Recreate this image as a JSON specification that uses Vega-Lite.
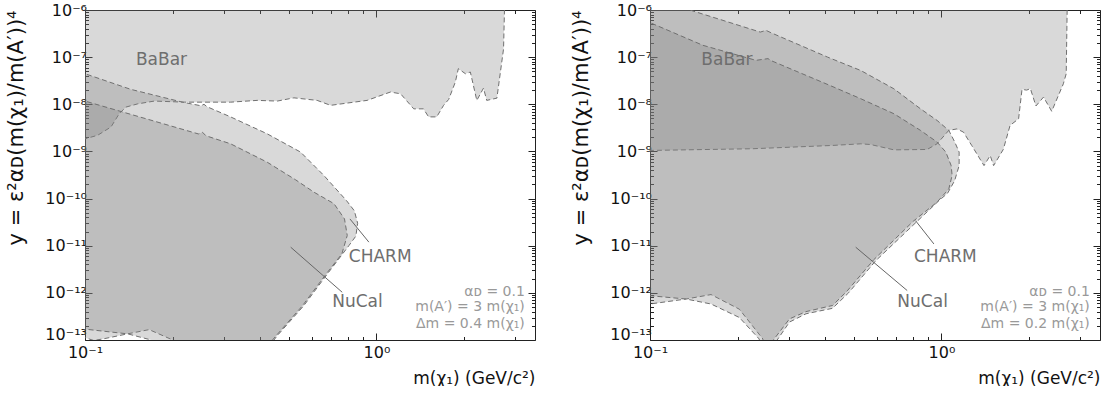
{
  "$schema": "https://vega.github.io/schema/vega-lite/v6.json",
  "background": "white",
  "padding": {"left": 5, "top": 2, "right": 0, "bottom": 0},
  "spacing": 115,
  "bounds": "flush",
  "config": {
    "font": "DejaVu Sans",
    "view": {"stroke": null},
    "axis": {"grid": false, "zindex": 1, "domainColor": "#222", "tickColor": "#222", "labelColor": "#111", "labelFont": "DejaVu Sans", "titleFont": "DejaVu Sans", "titleFontWeight": "normal", "titleColor": "#111"}
  },
  "datasets": {
    "regions": [
      {"p":"L","r":"a_BaBar","i":0,"x":0.09,"y":1e-5},
      {"p":"L","r":"a_BaBar","i":1,"x":0.09,"y":1.5e-9},
      {"p":"L","r":"a_BaBar","i":2,"x":0.1,"y":1.85e-9},
      {"p":"L","r":"a_BaBar","i":3,"x":0.1105,"y":2.2e-9},
      {"p":"L","r":"a_BaBar","i":4,"x":0.1228,"y":3.3e-9},
      {"p":"L","r":"a_BaBar","i":5,"x":0.131,"y":6.3e-9},
      {"p":"L","r":"a_BaBar","i":6,"x":0.138,"y":8.7e-9},
      {"p":"L","r":"a_BaBar","i":7,"x":0.1515,"y":1.02e-8},
      {"p":"L","r":"a_BaBar","i":8,"x":0.173,"y":1.17e-8},
      {"p":"L","r":"a_BaBar","i":9,"x":0.219,"y":1.11e-8},
      {"p":"L","r":"a_BaBar","i":10,"x":0.316,"y":1.11e-8},
      {"p":"L","r":"a_BaBar","i":11,"x":0.39,"y":1.21e-8},
      {"p":"L","r":"a_BaBar","i":12,"x":0.457,"y":1.17e-8},
      {"p":"L","r":"a_BaBar","i":13,"x":0.521,"y":1.37e-8},
      {"p":"L","r":"a_BaBar","i":14,"x":0.626,"y":1.21e-8},
      {"p":"L","r":"a_BaBar","i":15,"x":0.696,"y":9.5e-9},
      {"p":"L","r":"a_BaBar","i":16,"x":0.929,"y":1.21e-8},
      {"p":"L","r":"a_BaBar","i":17,"x":1.117,"y":1.82e-8},
      {"p":"L","r":"a_BaBar","i":18,"x":1.21,"y":1.67e-8},
      {"p":"L","r":"a_BaBar","i":19,"x":1.343,"y":8.0e-9},
      {"p":"L","r":"a_BaBar","i":20,"x":1.45,"y":8.0e-9},
      {"p":"L","r":"a_BaBar","i":21,"x":1.51,"y":5.4e-9},
      {"p":"L","r":"a_BaBar","i":22,"x":1.61,"y":5.4e-9},
      {"p":"L","r":"a_BaBar","i":23,"x":1.70,"y":9.5e-9},
      {"p":"L","r":"a_BaBar","i":24,"x":1.77,"y":1.27e-8},
      {"p":"L","r":"a_BaBar","i":25,"x":1.865,"y":2.96e-8},
      {"p":"L","r":"a_BaBar","i":26,"x":1.91,"y":5.7e-8},
      {"p":"L","r":"a_BaBar","i":27,"x":2.02,"y":4.45e-8},
      {"p":"L","r":"a_BaBar","i":28,"x":2.10,"y":4.83e-8},
      {"p":"L","r":"a_BaBar","i":29,"x":2.21,"y":1.21e-8},
      {"p":"L","r":"a_BaBar","i":30,"x":2.33,"y":2.2e-8},
      {"p":"L","r":"a_BaBar","i":31,"x":2.39,"y":1.21e-8},
      {"p":"L","r":"a_BaBar","i":32,"x":2.59,"y":1.35e-8},
      {"p":"L","r":"a_BaBar","i":33,"x":2.73,"y":1.5e-7},
      {"p":"L","r":"a_BaBar","i":34,"x":2.75,"y":1e-6},
      {"p":"L","r":"a_BaBar","i":35,"x":2.75,"y":1e-5},

      {"p":"L","r":"b_CHARM","i":0,"x":0.09,"y":5.5e-8},
      {"p":"L","r":"b_CHARM","i":1,"x":0.1,"y":4.45e-8},
      {"p":"L","r":"b_CHARM","i":2,"x":0.1437,"y":2.07e-8},
      {"p":"L","r":"b_CHARM","i":3,"x":0.216,"y":1.11e-8},
      {"p":"L","r":"b_CHARM","i":4,"x":0.25,"y":9.3e-9},
      {"p":"L","r":"b_CHARM","i":5,"x":0.256,"y":1.0e-8},
      {"p":"L","r":"b_CHARM","i":6,"x":0.262,"y":8.9e-9},
      {"p":"L","r":"b_CHARM","i":7,"x":0.316,"y":5.4e-9},
      {"p":"L","r":"b_CHARM","i":8,"x":0.422,"y":2.36e-9},
      {"p":"L","r":"b_CHARM","i":9,"x":0.549,"y":9.7e-10},
      {"p":"L","r":"b_CHARM","i":10,"x":0.66,"y":3.1e-10},
      {"p":"L","r":"b_CHARM","i":11,"x":0.79,"y":9e-11},
      {"p":"L","r":"b_CHARM","i":12,"x":0.84,"y":5.5e-11},
      {"p":"L","r":"b_CHARM","i":13,"x":0.862,"y":3e-11},
      {"p":"L","r":"b_CHARM","i":14,"x":0.85,"y":1.6e-11},
      {"p":"L","r":"b_CHARM","i":15,"x":0.804,"y":1.0e-11},
      {"p":"L","r":"b_CHARM","i":16,"x":0.678,"y":2.5e-12},
      {"p":"L","r":"b_CHARM","i":17,"x":0.564,"y":5.4e-13},
      {"p":"L","r":"b_CHARM","i":18,"x":0.457,"y":1.24e-13},
      {"p":"L","r":"b_CHARM","i":19,"x":0.445,"y":1e-13},
      {"p":"L","r":"b_CHARM","i":20,"x":0.44,"y":6e-14},
      {"p":"L","r":"b_CHARM","i":21,"x":0.21,"y":7e-14},
      {"p":"L","r":"b_CHARM","i":22,"x":0.2,"y":1.0e-13},
      {"p":"L","r":"b_CHARM","i":23,"x":0.166,"y":1.66e-13},
      {"p":"L","r":"b_CHARM","i":24,"x":0.14,"y":1.35e-13},
      {"p":"L","r":"b_CHARM","i":25,"x":0.115,"y":1.05e-13},
      {"p":"L","r":"b_CHARM","i":26,"x":0.107,"y":9.8e-14},
      {"p":"L","r":"b_CHARM","i":27,"x":0.1,"y":1.12e-13},
      {"p":"L","r":"b_CHARM","i":28,"x":0.09,"y":1.2e-13},

      {"p":"L","r":"c_NuCal","i":0,"x":0.09,"y":1.42e-8},
      {"p":"L","r":"c_NuCal","i":1,"x":0.1,"y":1.17e-8},
      {"p":"L","r":"c_NuCal","i":2,"x":0.245,"y":2.35e-9},
      {"p":"L","r":"c_NuCal","i":3,"x":0.253,"y":2.55e-9},
      {"p":"L","r":"c_NuCal","i":4,"x":0.26,"y":2.15e-9},
      {"p":"L","r":"c_NuCal","i":5,"x":0.316,"y":1.45e-9},
      {"p":"L","r":"c_NuCal","i":6,"x":0.422,"y":5.9e-10},
      {"p":"L","r":"c_NuCal","i":7,"x":0.528,"y":2.5e-10},
      {"p":"L","r":"c_NuCal","i":8,"x":0.61,"y":1.37e-10},
      {"p":"L","r":"c_NuCal","i":9,"x":0.715,"y":7.8e-11},
      {"p":"L","r":"c_NuCal","i":10,"x":0.777,"y":3.7e-11},
      {"p":"L","r":"c_NuCal","i":11,"x":0.794,"y":1.65e-11},
      {"p":"L","r":"c_NuCal","i":12,"x":0.761,"y":6.7e-12},
      {"p":"L","r":"c_NuCal","i":13,"x":0.67,"y":2.45e-12},
      {"p":"L","r":"c_NuCal","i":14,"x":0.557,"y":5.3e-13},
      {"p":"L","r":"c_NuCal","i":15,"x":0.452,"y":1.22e-13},
      {"p":"L","r":"c_NuCal","i":16,"x":0.44,"y":1e-13},
      {"p":"L","r":"c_NuCal","i":17,"x":0.435,"y":6e-14},
      {"p":"L","r":"c_NuCal","i":18,"x":0.175,"y":6e-14},
      {"p":"L","r":"c_NuCal","i":19,"x":0.169,"y":1e-13},
      {"p":"L","r":"c_NuCal","i":20,"x":0.14,"y":1.35e-13},
      {"p":"L","r":"c_NuCal","i":21,"x":0.1,"y":1.7e-13},
      {"p":"L","r":"c_NuCal","i":22,"x":0.09,"y":1.8e-13},

      {"p":"R","r":"a_BaBar","i":0,"x":0.09,"y":1e-5},
      {"p":"R","r":"a_BaBar","i":1,"x":0.09,"y":1.04e-9},
      {"p":"R","r":"a_BaBar","i":2,"x":0.1,"y":1.05e-9},
      {"p":"R","r":"a_BaBar","i":3,"x":0.225,"y":1.14e-9},
      {"p":"R","r":"a_BaBar","i":4,"x":0.423,"y":1.34e-9},
      {"p":"R","r":"a_BaBar","i":5,"x":0.529,"y":1.45e-9},
      {"p":"R","r":"a_BaBar","i":6,"x":0.572,"y":1.4e-9},
      {"p":"R","r":"a_BaBar","i":7,"x":0.687,"y":1.08e-9},
      {"p":"R","r":"a_BaBar","i":8,"x":0.893,"y":1.1e-9},
      {"p":"R","r":"a_BaBar","i":9,"x":0.966,"y":1.45e-9},
      {"p":"R","r":"a_BaBar","i":10,"x":1.06,"y":2.8e-9},
      {"p":"R","r":"a_BaBar","i":11,"x":1.13,"y":3.0e-9},
      {"p":"R","r":"a_BaBar","i":12,"x":1.19,"y":2.57e-9},
      {"p":"R","r":"a_BaBar","i":13,"x":1.27,"y":1.34e-9},
      {"p":"R","r":"a_BaBar","i":14,"x":1.40,"y":5.0e-10},
      {"p":"R","r":"a_BaBar","i":15,"x":1.47,"y":8.2e-10},
      {"p":"R","r":"a_BaBar","i":16,"x":1.51,"y":5.0e-10},
      {"p":"R","r":"a_BaBar","i":17,"x":1.63,"y":1.1e-9},
      {"p":"R","r":"a_BaBar","i":18,"x":1.72,"y":3.56e-9},
      {"p":"R","r":"a_BaBar","i":19,"x":1.84,"y":4.93e-9},
      {"p":"R","r":"a_BaBar","i":20,"x":1.89,"y":2.07e-8},
      {"p":"R","r":"a_BaBar","i":21,"x":1.96,"y":2.0e-8},
      {"p":"R","r":"a_BaBar","i":22,"x":2.02,"y":2.14e-8},
      {"p":"R","r":"a_BaBar","i":23,"x":2.11,"y":9.2e-9},
      {"p":"R","r":"a_BaBar","i":24,"x":2.24,"y":1.42e-8},
      {"p":"R","r":"a_BaBar","i":25,"x":2.39,"y":7.1e-9},
      {"p":"R","r":"a_BaBar","i":26,"x":2.62,"y":2.72e-8},
      {"p":"R","r":"a_BaBar","i":27,"x":2.68,"y":4.45e-8},
      {"p":"R","r":"a_BaBar","i":28,"x":2.70,"y":1e-6},
      {"p":"R","r":"a_BaBar","i":29,"x":2.70,"y":1e-5},

      {"p":"R","r":"b_CHARM","i":0,"x":0.09,"y":2.2e-6},
      {"p":"R","r":"b_CHARM","i":1,"x":0.137,"y":1e-6},
      {"p":"R","r":"b_CHARM","i":2,"x":0.239,"y":3.4e-7},
      {"p":"R","r":"b_CHARM","i":3,"x":0.25,"y":3.7e-7},
      {"p":"R","r":"b_CHARM","i":4,"x":0.26,"y":3.3e-7},
      {"p":"R","r":"b_CHARM","i":5,"x":0.407,"y":1.0e-7},
      {"p":"R","r":"b_CHARM","i":6,"x":0.529,"y":5.2e-8},
      {"p":"R","r":"b_CHARM","i":7,"x":0.687,"y":2.13e-8},
      {"p":"R","r":"b_CHARM","i":8,"x":0.848,"y":8.0e-9},
      {"p":"R","r":"b_CHARM","i":9,"x":0.966,"y":4.55e-9},
      {"p":"R","r":"b_CHARM","i":10,"x":1.06,"y":2.79e-9},
      {"p":"R","r":"b_CHARM","i":11,"x":1.11,"y":1.6e-9},
      {"p":"R","r":"b_CHARM","i":12,"x":1.15,"y":9.7e-10},
      {"p":"R","r":"b_CHARM","i":13,"x":1.15,"y":5.0e-10},
      {"p":"R","r":"b_CHARM","i":14,"x":1.11,"y":2.4e-10},
      {"p":"R","r":"b_CHARM","i":15,"x":1.05,"y":1.3e-10},
      {"p":"R","r":"b_CHARM","i":16,"x":0.98,"y":9.0e-11},
      {"p":"R","r":"b_CHARM","i":17,"x":0.83,"y":3.4e-11},
      {"p":"R","r":"b_CHARM","i":18,"x":0.595,"y":4.8e-12},
      {"p":"R","r":"b_CHARM","i":19,"x":0.48,"y":1.0e-12},
      {"p":"R","r":"b_CHARM","i":20,"x":0.423,"y":4.7e-13},
      {"p":"R","r":"b_CHARM","i":21,"x":0.343,"y":3.6e-13},
      {"p":"R","r":"b_CHARM","i":22,"x":0.301,"y":2.4e-13},
      {"p":"R","r":"b_CHARM","i":23,"x":0.27,"y":9e-14},
      {"p":"R","r":"b_CHARM","i":24,"x":0.265,"y":6e-14},
      {"p":"R","r":"b_CHARM","i":25,"x":0.245,"y":6e-14},
      {"p":"R","r":"b_CHARM","i":26,"x":0.244,"y":1.05e-13},
      {"p":"R","r":"b_CHARM","i":27,"x":0.2026,"y":4.5e-13},
      {"p":"R","r":"b_CHARM","i":28,"x":0.162,"y":9.2e-13},
      {"p":"R","r":"b_CHARM","i":29,"x":0.133,"y":7.4e-13},
      {"p":"R","r":"b_CHARM","i":30,"x":0.1,"y":5.8e-13},
      {"p":"R","r":"b_CHARM","i":31,"x":0.09,"y":5.5e-13},

      {"p":"R","r":"c_NuCal","i":0,"x":0.09,"y":7.1e-7},
      {"p":"R","r":"c_NuCal","i":1,"x":0.1,"y":5.4e-7},
      {"p":"R","r":"c_NuCal","i":2,"x":0.152,"y":1.78e-7},
      {"p":"R","r":"c_NuCal","i":3,"x":0.231,"y":8.55e-8},
      {"p":"R","r":"c_NuCal","i":4,"x":0.254,"y":9.3e-8},
      {"p":"R","r":"c_NuCal","i":5,"x":0.262,"y":8.3e-8},
      {"p":"R","r":"c_NuCal","i":6,"x":0.293,"y":6.2e-8},
      {"p":"R","r":"c_NuCal","i":7,"x":0.415,"y":2.5e-8},
      {"p":"R","r":"c_NuCal","i":8,"x":0.529,"y":1.31e-8},
      {"p":"R","r":"c_NuCal","i":9,"x":0.687,"y":6.3e-9},
      {"p":"R","r":"c_NuCal","i":10,"x":0.848,"y":2.79e-9},
      {"p":"R","r":"c_NuCal","i":11,"x":0.966,"y":1.58e-9},
      {"p":"R","r":"c_NuCal","i":12,"x":1.035,"y":9.7e-10},
      {"p":"R","r":"c_NuCal","i":13,"x":1.08,"y":5.0e-10},
      {"p":"R","r":"c_NuCal","i":14,"x":1.088,"y":3.1e-10},
      {"p":"R","r":"c_NuCal","i":15,"x":1.06,"y":1.6e-10},
      {"p":"R","r":"c_NuCal","i":16,"x":0.966,"y":8.4e-11},
      {"p":"R","r":"c_NuCal","i":17,"x":0.80,"y":3.3e-11},
      {"p":"R","r":"c_NuCal","i":18,"x":0.585,"y":5.0e-12},
      {"p":"R","r":"c_NuCal","i":19,"x":0.475,"y":1.1e-12},
      {"p":"R","r":"c_NuCal","i":20,"x":0.423,"y":5.4e-13},
      {"p":"R","r":"c_NuCal","i":21,"x":0.343,"y":4.0e-13},
      {"p":"R","r":"c_NuCal","i":22,"x":0.301,"y":2.8e-13},
      {"p":"R","r":"c_NuCal","i":23,"x":0.265,"y":1e-13},
      {"p":"R","r":"c_NuCal","i":24,"x":0.262,"y":6e-14},
      {"p":"R","r":"c_NuCal","i":25,"x":0.24,"y":6e-14},
      {"p":"R","r":"c_NuCal","i":26,"x":0.237,"y":1.05e-13},
      {"p":"R","r":"c_NuCal","i":27,"x":0.2026,"y":3.0e-13},
      {"p":"R","r":"c_NuCal","i":28,"x":0.162,"y":5.8e-13},
      {"p":"R","r":"c_NuCal","i":29,"x":0.133,"y":7.4e-13},
      {"p":"R","r":"c_NuCal","i":30,"x":0.1,"y":8.7e-13},
      {"p":"R","r":"c_NuCal","i":31,"x":0.09,"y":9.2e-13}
    ],
    "labels": [
      {"p":"L","x":0.1495,"y":6.7e-8,"t":"BaBar"},
      {"p":"L","x":0.804,"y":4.47e-12,"t":"CHARM"},
      {"p":"L","x":0.705,"y":4.95e-13,"t":"NuCal"},
      {"p":"R","x":0.150,"y":6.7e-8,"t":"BaBar"},
      {"p":"R","x":0.805,"y":4.47e-12,"t":"CHARM"},
      {"p":"R","x":0.706,"y":4.95e-13,"t":"NuCal"}
    ],
    "leaders": [
      {"p":"L","x":0.811,"y":3.7e-11,"x2":0.942,"y2":1.19e-11},
      {"p":"L","x":0.508,"y":9.3e-12,"x2":0.763,"y2":1.03e-12},
      {"p":"R","x":0.815,"y":3.4e-11,"x2":0.942,"y2":1.09e-11},
      {"p":"R","x":0.508,"y":9.3e-12,"x2":0.763,"y2":1.12e-12}
    ],
    "params": [
      {"p":"L","x":3.23,"y":1.03e-12,"t":"αᴅ = 0.1"},
      {"p":"L","x":3.23,"y":4.95e-13,"t":"m(A′) = 3 m(χ₁)"},
      {"p":"L","x":3.23,"y":2.19e-13,"t":"Δm = 0.4 m(χ₁)"},
      {"p":"R","x":3.23,"y":1.03e-12,"t":"αᴅ = 0.1"},
      {"p":"R","x":3.23,"y":4.95e-13,"t":"m(A′) = 3 m(χ₁)"},
      {"p":"R","x":3.23,"y":2.19e-13,"t":"Δm = 0.2 m(χ₁)"}
    ]
  },
  "hconcat": [
    {
      "width": 450, "height": 330,
      "resolve": {"axis": {"x": "independent", "y": "independent"}},
      "layer": [
        {
          "data": {"name": "regions"},
          "transform": [{"filter": "datum.p == 'L'"}],
          "mark": {"type": "line", "fill": "#808080", "fillOpacity": 0.3, "stroke": "#707070", "strokeWidth": 1, "strokeDash": [5, 3], "clip": true},
          "encoding": {
            "x": {"field": "x", "type": "quantitative", "scale": {"type": "log", "domain": [0.1, 3.5]},
              "axis": {"orient": "bottom", "values": [0.1,0.2,0.3,0.4,0.5,0.6,0.7,0.8,0.9,1,2,3], "labelExpr": "datum.value == 1 ? '10⁰' : (abs(datum.value - 0.1) < 1e-9 ? '10⁻¹' : '')", "tickSize": {"condition": {"test": "abs(log(datum.value)/LN10 - round(log(datum.value)/LN10)) < 0.01", "value": -7}, "value": -3.5}, "labelPadding": 11, "labelFontSize": 16, "labelFlush": false, "title": "m(χ₁) (GeV/c²)", "titleAnchor": "end", "titleFontSize": 17, "titlePadding": 10}},
            "y": {"field": "y", "type": "quantitative", "scale": {"type": "log", "domain": [1e-13, 1e-6]},
              "axis": {"orient": "left", "values": [1e-13,2e-13,3e-13,4e-13,5e-13,6e-13,7e-13,8e-13,9e-13,1e-12,2e-12,3e-12,4e-12,5e-12,6e-12,7e-12,8e-12,9e-12,1e-11,2e-11,3e-11,4e-11,5e-11,6e-11,7e-11,8e-11,9e-11,1e-10,2e-10,3e-10,4e-10,5e-10,6e-10,7e-10,8e-10,9e-10,1e-9,2e-9,3e-9,4e-9,5e-9,6e-9,7e-9,8e-9,9e-9,1e-8,2e-8,3e-8,4e-8,5e-8,6e-8,7e-8,8e-8,9e-8,1e-7,2e-7,3e-7,4e-7,5e-7,6e-7,7e-7,8e-7,9e-7,1e-6], "labelExpr": "abs(log(datum.value)/LN10 - round(log(datum.value)/LN10)) < 0.01 ? '10⁻' + (round(-log(datum.value)/LN10) >= 10 ? '¹' : '') + ['⁰','¹','²','³','⁴','⁵','⁶','⁷','⁸','⁹'][round(-log(datum.value)/LN10) % 10] : ''", "labelOffset": {"condition": {"test": "datum.value < 1.5e-13", "value": -6}, "value": 0}, "tickSize": {"condition": {"test": "abs(log(datum.value)/LN10 - round(log(datum.value)/LN10)) < 0.01", "value": -7}, "value": -3.5}, "labelPadding": 5.5, "labelFontSize": 16, "labelFlush": false, "title": "y = ε²αᴅ(m(χ₁)/m(A′))⁴", "titleAnchor": "end", "titleFontSize": 21, "titlePadding": 18}},
            "detail": {"field": "r"},
            "order": {"field": "i", "type": "quantitative"}
          }
        },
        {
          "data": {"name": "leaders"},
          "transform": [{"filter": "datum.p == 'L'"}],
          "mark": {"type": "rule", "color": "#666", "strokeWidth": 1},
          "encoding": {
            "x": {"field": "x", "type": "quantitative", "scale": {"type": "log", "domain": [0.1, 3.5]},
              "axis": {"orient": "top", "values": [0.1,0.2,0.3,0.4,0.5,0.6,0.7,0.8,0.9,1,2,3], "labels": false, "title": null, "tickSize": {"condition": {"test": "abs(log(datum.value)/LN10 - round(log(datum.value)/LN10)) < 0.01", "value": -7}, "value": -3.5}}},
            "y": {"field": "y", "type": "quantitative", "scale": {"type": "log", "domain": [1e-13, 1e-6]},
              "axis": {"orient": "right", "values": [1e-13,2e-13,3e-13,4e-13,5e-13,6e-13,7e-13,8e-13,9e-13,1e-12,2e-12,3e-12,4e-12,5e-12,6e-12,7e-12,8e-12,9e-12,1e-11,2e-11,3e-11,4e-11,5e-11,6e-11,7e-11,8e-11,9e-11,1e-10,2e-10,3e-10,4e-10,5e-10,6e-10,7e-10,8e-10,9e-10,1e-9,2e-9,3e-9,4e-9,5e-9,6e-9,7e-9,8e-9,9e-9,1e-8,2e-8,3e-8,4e-8,5e-8,6e-8,7e-8,8e-8,9e-8,1e-7,2e-7,3e-7,4e-7,5e-7,6e-7,7e-7,8e-7,9e-7,1e-6], "labels": false, "title": null, "tickSize": {"condition": {"test": "abs(log(datum.value)/LN10 - round(log(datum.value)/LN10)) < 0.01", "value": -7}, "value": -3.5}}},
            "x2": {"field": "x2"},
            "y2": {"field": "y2"}
          }
        },
        {
          "data": {"name": "labels"},
          "transform": [{"filter": "datum.p == 'L'"}],
          "mark": {"type": "text", "align": "left", "baseline": "alphabetic", "fontSize": 17, "color": "#6e6e6e", "font": "DejaVu Sans"},
          "encoding": {
            "x": {"field": "x", "type": "quantitative", "scale": {"type": "log", "domain": [0.1, 3.5]}, "axis": null},
            "y": {"field": "y", "type": "quantitative", "scale": {"type": "log", "domain": [1e-13, 1e-6]}, "axis": null},
            "text": {"field": "t"}
          }
        },
        {
          "data": {"name": "params"},
          "transform": [{"filter": "datum.p == 'L'"}],
          "mark": {"type": "text", "align": "right", "baseline": "middle", "fontSize": 14, "color": "#999999", "font": "DejaVu Sans"},
          "encoding": {
            "x": {"field": "x", "type": "quantitative", "scale": {"type": "log", "domain": [0.1, 3.5]}, "axis": null},
            "y": {"field": "y", "type": "quantitative", "scale": {"type": "log", "domain": [1e-13, 1e-6]}, "axis": null},
            "text": {"field": "t"}
          }
        }
      ]
    },
    {
      "width": 450, "height": 330,
      "resolve": {"axis": {"x": "independent", "y": "independent"}},
      "layer": [
        {
          "data": {"name": "regions"},
          "transform": [{"filter": "datum.p == 'R'"}],
          "mark": {"type": "line", "fill": "#808080", "fillOpacity": 0.3, "stroke": "#707070", "strokeWidth": 1, "strokeDash": [5, 3], "clip": true},
          "encoding": {
            "x": {"field": "x", "type": "quantitative", "scale": {"type": "log", "domain": [0.1, 3.5]},
              "axis": {"orient": "bottom", "values": [0.1,0.2,0.3,0.4,0.5,0.6,0.7,0.8,0.9,1,2,3], "labelExpr": "datum.value == 1 ? '10⁰' : (abs(datum.value - 0.1) < 1e-9 ? '10⁻¹' : '')", "tickSize": {"condition": {"test": "abs(log(datum.value)/LN10 - round(log(datum.value)/LN10)) < 0.01", "value": -7}, "value": -3.5}, "labelPadding": 11, "labelFontSize": 16, "labelFlush": false, "title": "m(χ₁) (GeV/c²)", "titleAnchor": "end", "titleFontSize": 17, "titlePadding": 10}},
            "y": {"field": "y", "type": "quantitative", "scale": {"type": "log", "domain": [1e-13, 1e-6]},
              "axis": {"orient": "left", "values": [1e-13,2e-13,3e-13,4e-13,5e-13,6e-13,7e-13,8e-13,9e-13,1e-12,2e-12,3e-12,4e-12,5e-12,6e-12,7e-12,8e-12,9e-12,1e-11,2e-11,3e-11,4e-11,5e-11,6e-11,7e-11,8e-11,9e-11,1e-10,2e-10,3e-10,4e-10,5e-10,6e-10,7e-10,8e-10,9e-10,1e-9,2e-9,3e-9,4e-9,5e-9,6e-9,7e-9,8e-9,9e-9,1e-8,2e-8,3e-8,4e-8,5e-8,6e-8,7e-8,8e-8,9e-8,1e-7,2e-7,3e-7,4e-7,5e-7,6e-7,7e-7,8e-7,9e-7,1e-6], "labelExpr": "abs(log(datum.value)/LN10 - round(log(datum.value)/LN10)) < 0.01 ? '10⁻' + (round(-log(datum.value)/LN10) >= 10 ? '¹' : '') + ['⁰','¹','²','³','⁴','⁵','⁶','⁷','⁸','⁹'][round(-log(datum.value)/LN10) % 10] : ''", "labelOffset": {"condition": {"test": "datum.value < 1.5e-13", "value": -6}, "value": 0}, "tickSize": {"condition": {"test": "abs(log(datum.value)/LN10 - round(log(datum.value)/LN10)) < 0.01", "value": -7}, "value": -3.5}, "labelPadding": 5.5, "labelFontSize": 16, "labelFlush": false, "title": "y = ε²αᴅ(m(χ₁)/m(A′))⁴", "titleAnchor": "end", "titleFontSize": 21, "titlePadding": 18}},
            "detail": {"field": "r"},
            "order": {"field": "i", "type": "quantitative"}
          }
        },
        {
          "data": {"name": "leaders"},
          "transform": [{"filter": "datum.p == 'R'"}],
          "mark": {"type": "rule", "color": "#666", "strokeWidth": 1},
          "encoding": {
            "x": {"field": "x", "type": "quantitative", "scale": {"type": "log", "domain": [0.1, 3.5]},
              "axis": {"orient": "top", "values": [0.1,0.2,0.3,0.4,0.5,0.6,0.7,0.8,0.9,1,2,3], "labels": false, "title": null, "tickSize": {"condition": {"test": "abs(log(datum.value)/LN10 - round(log(datum.value)/LN10)) < 0.01", "value": -7}, "value": -3.5}}},
            "y": {"field": "y", "type": "quantitative", "scale": {"type": "log", "domain": [1e-13, 1e-6]},
              "axis": {"orient": "right", "values": [1e-13,2e-13,3e-13,4e-13,5e-13,6e-13,7e-13,8e-13,9e-13,1e-12,2e-12,3e-12,4e-12,5e-12,6e-12,7e-12,8e-12,9e-12,1e-11,2e-11,3e-11,4e-11,5e-11,6e-11,7e-11,8e-11,9e-11,1e-10,2e-10,3e-10,4e-10,5e-10,6e-10,7e-10,8e-10,9e-10,1e-9,2e-9,3e-9,4e-9,5e-9,6e-9,7e-9,8e-9,9e-9,1e-8,2e-8,3e-8,4e-8,5e-8,6e-8,7e-8,8e-8,9e-8,1e-7,2e-7,3e-7,4e-7,5e-7,6e-7,7e-7,8e-7,9e-7,1e-6], "labels": false, "title": null, "tickSize": {"condition": {"test": "abs(log(datum.value)/LN10 - round(log(datum.value)/LN10)) < 0.01", "value": -7}, "value": -3.5}}},
            "x2": {"field": "x2"},
            "y2": {"field": "y2"}
          }
        },
        {
          "data": {"name": "labels"},
          "transform": [{"filter": "datum.p == 'R'"}],
          "mark": {"type": "text", "align": "left", "baseline": "alphabetic", "fontSize": 17, "color": "#6e6e6e", "font": "DejaVu Sans"},
          "encoding": {
            "x": {"field": "x", "type": "quantitative", "scale": {"type": "log", "domain": [0.1, 3.5]}, "axis": null},
            "y": {"field": "y", "type": "quantitative", "scale": {"type": "log", "domain": [1e-13, 1e-6]}, "axis": null},
            "text": {"field": "t"}
          }
        },
        {
          "data": {"name": "params"},
          "transform": [{"filter": "datum.p == 'R'"}],
          "mark": {"type": "text", "align": "right", "baseline": "middle", "fontSize": 14, "color": "#999999", "font": "DejaVu Sans"},
          "encoding": {
            "x": {"field": "x", "type": "quantitative", "scale": {"type": "log", "domain": [0.1, 3.5]}, "axis": null},
            "y": {"field": "y", "type": "quantitative", "scale": {"type": "log", "domain": [1e-13, 1e-6]}, "axis": null},
            "text": {"field": "t"}
          }
        }
      ]
    }
  ]
}
